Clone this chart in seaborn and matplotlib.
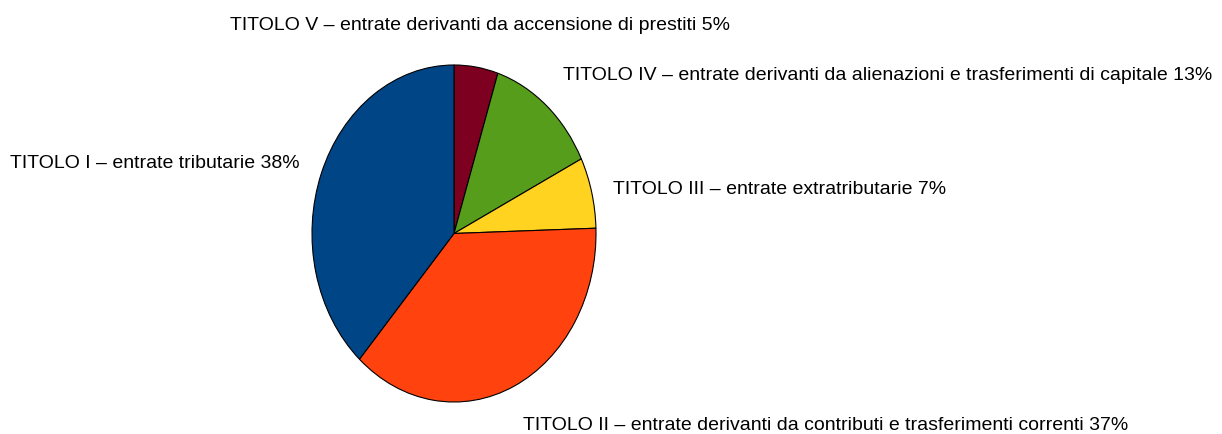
import matplotlib
matplotlib.use("Agg")
import matplotlib.pyplot as plt
import seaborn as sns

# slices clockwise from 12 o'clock
titoli = ['TITOLO V', 'TITOLO IV', 'TITOLO III', 'TITOLO II', 'TITOLO I']
descr = ['entrate derivanti da accensione di prestiti',
         'entrate derivanti da alienazioni e trasferimenti di capitale',
         'entrate extratributarie',
         'entrate derivanti da contributi e trasferimenti correnti',
         'entrate tributarie']
perc = [5.0, 12.7, 6.8, 37.1, 38.4]
colori = ['#7E0021', '#579D1C', '#FFD320', '#FF420E', '#004586']

sns.set_style('white')
plt.rcParams['font.family'] = ['Liberation Sans Narrow', 'Liberation Sans', 'DejaVu Sans']

W, H = 1222, 434
fig = plt.figure(figsize=(W / 100, H / 100), dpi=100)
fig.patch.set_facecolor('white')

# axes placed over the (elliptical) pie area, in pixels
x0, x1, y0, y1 = 312, 596, 65, 402
ax = fig.add_axes([x0 / W, 1 - y1 / H, (x1 - x0) / W, (y1 - y0) / H])
ax.pie(perc, colors=sns.color_palette(colori), startangle=90, counterclock=False,
       wedgeprops={'edgecolor': 'black', 'linewidth': 0.8})
ax.set_aspect('auto')
ax.set_xlim(-1.0, 1.0)
ax.set_ylim(-1.0, 1.0)
ax.axis('off')

# label positions (left x, centre y) in pixels
pos = [(230, 25), (563, 75), (613, 190), (523, 425), (10, 163)]
for (px, py), t, d, p in zip(pos, titoli, descr, perc):
    fig.text(px / W, 1 - py / H, f'{t} \u2013 {d} {round(p)}%', fontsize=14,
             ha='left', va='center', color='black')

fig.savefig('out.png', dpi=100, facecolor='white')
